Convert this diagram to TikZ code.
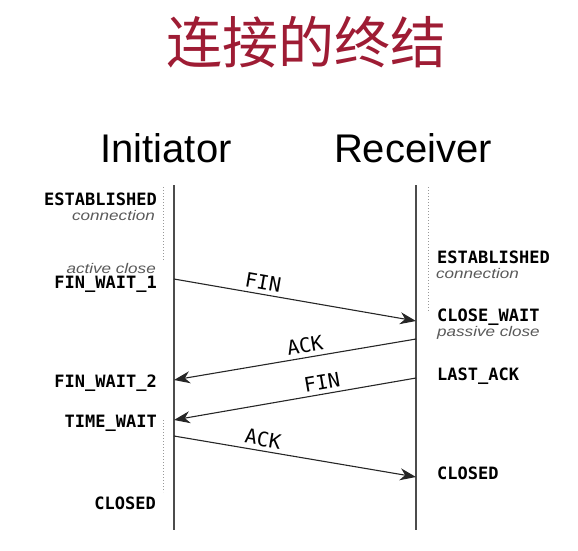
\documentclass[tikz,border=0pt]{standalone}
\usepackage{fontspec}
\setmainfont{Liberation Sans}
\newfontfamily\cjkfont{Noto Sans CJK SC}
\newfontfamily\statefont{DejaVu Sans Mono}
\newfontfamily\notefont[FakeStretch=1.22]{Liberation Sans}
\usetikzlibrary{arrows.meta,positioning}
\definecolor{titlered}{RGB}{158,28,52}
\tikzset{
  lifeline/.style={draw=black!70, line width=2pt},
  waitline/.style={draw=black!40, dotted, line width=1pt},
  msg/.style={draw=black!85, line width=1.1pt, -{Stealth[length=16pt,width=12pt,inset=5pt]}},
  msglabel/.style={sloped, above, inner sep=4pt, font=\statefont\fontsize{20}{20}\selectfont},
  state/.style={inner sep=0pt, font=\statefont\bfseries\fontsize{17}{17}\selectfont},
  note/.style={inner sep=0pt, text=black!65, font=\notefont\itshape\fontsize{14}{14}\selectfont},
  party/.style={inner sep=0pt, font=\fontsize{40}{40}\selectfont}
}

\begin{document}
\begin{tikzpicture}[x=1pt,y=-1pt]
\useasboundingbox (0,0) rectangle (578,550);

\node[inner sep=0pt, text=titlered, font=\cjkfont\fontsize{56}{56}\selectfont] (title) at (306,42) {连接的终结};

\node[party] (initiator) at (166,148) {Initiator};
\node[party] (receiver) at (413,148) {Receiver};

\coordinate (itop) at (174,185);
\coordinate (ibot) at (174,530);
\coordinate (rtop) at (416,185);
\coordinate (rbot) at (416,530);
\draw[lifeline] (itop) -- (ibot);
\draw[lifeline] (rtop) -- (rbot);

\draw[waitline] (163,187) -- (163,261);
\draw[waitline] (163,420) -- (163,492);
\draw[waitline] (428,187) -- (428,312);

% initiator side
\node[state, anchor=east] (iest) at (157,199) {ESTABLISHED};
\node[note, anchor=east] (iconn) at (155,215) {connection};
\node[note, anchor=east] (iactive) at (156,268) {active close};
\node[state, anchor=east] (finwait1) at (157,284) {FIN\_WAIT\_1};
\node[state, anchor=east] (finwait2) at (157,383) {FIN\_WAIT\_2};
\node[state, anchor=east] (timewait) at (157,423) {TIME\_WAIT};
\node[state, anchor=east] (iclosed) at (156,503) {CLOSED};

% receiver side
\node[state, anchor=west] (rest) at (437,257) {ESTABLISHED};
\node[note, anchor=west] (rconn) at (436,273) {connection};
\node[state, anchor=west] (closewait) at (437,317) {CLOSE\_WAIT};
\node[note, anchor=west] (rpassive) at (437,333) {passive close};
\node[state, anchor=west] (lastack) at (437,376) {LAST\_ACK};
\node[state, anchor=west] (rclosed) at (437,473) {CLOSED};

\coordinate (i1) at (174,279);
\coordinate (r1) at (416,321);
\coordinate (r2) at (416,339);
\coordinate (i2) at (174,380);
\coordinate (r3) at (416,378);
\coordinate (i3) at (174,420);
\coordinate (i4) at (174,436);
\coordinate (r4) at (416,477);

\draw[msg] (i1) -- node[msglabel, pos=0.36] {FIN} (r1);
\draw[msg] (r2) -- node[msglabel, pos=0.45] {ACK} (i2);
\draw[msg] (r3) -- node[msglabel, pos=0.38] {FIN} (i3);
\draw[msg] (i4) -- node[msglabel, pos=0.36] {ACK} (r4);

\end{tikzpicture}
\end{document}
